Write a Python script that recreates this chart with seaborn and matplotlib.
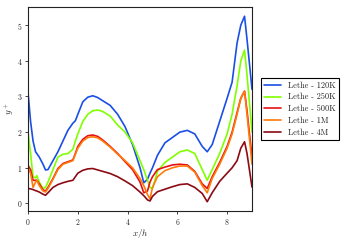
import numpy as np
import pandas as pd
import seaborn as sns
import matplotlib
matplotlib.use("Agg")
import matplotlib.pyplot as plt

x_h = [0, 0.1, 0.2, 0.3, 0.35, 0.45, 0.6, 0.7, 0.8, 1.0, 1.2, 1.4, 1.6, 1.8, 1.9,
       2.0, 2.2, 2.4, 2.6, 2.8, 3.0, 3.3, 3.6, 3.9, 4.2, 4.5, 4.65, 4.8, 4.9, 5.0,
       5.2, 5.5, 5.8, 6.1, 6.4, 6.7, 7.0, 7.2, 7.4, 7.7, 8.0, 8.2, 8.4, 8.55, 8.7,
       8.8, 9.0]

yplus_120k = [3.1, 2.3, 1.75, 1.45, 1.40, 1.3, 1.1, 0.94, 0.95, 1.2, 1.45, 1.75, 2.05,
              2.25, 2.32, 2.5, 2.85, 2.98, 3.02, 2.97, 2.88, 2.75, 2.5, 2.15, 1.65,
              1.0, 0.58, 0.68, 0.85, 1.0, 1.35, 1.7, 1.85, 2.0, 2.05, 1.95, 1.6, 1.45,
              1.65, 2.3, 2.95, 3.4, 4.5, 5.0, 5.25, 4.6, 3.2]
yplus_250k = [2.0, 1.4, 0.75, 0.72, 0.78, 0.6, 0.42, 0.45, 0.6, 0.95, 1.3, 1.38, 1.4,
              1.52, 1.75, 1.95, 2.3, 2.5, 2.6, 2.62, 2.58, 2.45, 2.2, 2.0, 1.7, 1.2,
              0.95, 0.65, 0.45, 0.42, 0.9, 1.15, 1.3, 1.45, 1.5, 1.4, 0.95, 0.65, 0.95,
              1.4, 1.95, 2.5, 3.3, 4.0, 4.3, 3.6, 2.0]
yplus_500k = [1.07, 0.95, 0.65, 0.65, 0.65, 0.55, 0.38, 0.35, 0.45, 0.7, 0.98, 1.12,
              1.17, 1.22, 1.4, 1.6, 1.8, 1.9, 1.92, 1.88, 1.78, 1.6, 1.4, 1.17, 0.95,
              0.6, 0.3, 0.35, 0.6, 0.75, 0.95, 1.02, 1.08, 1.1, 1.08, 0.9, 0.55, 0.42,
              0.75, 1.15, 1.6, 2.0, 2.55, 2.95, 3.15, 2.6, 1.3]
yplus_1m = [0.98, 0.85, 0.45, 0.6, 0.65, 0.5, 0.35, 0.32, 0.42, 0.68, 0.95, 1.1, 1.15,
            1.2, 1.38, 1.55, 1.75, 1.85, 1.87, 1.84, 1.75, 1.58, 1.38, 1.2, 1.0, 0.7,
            0.5, 0.25, 0.13, 0.45, 0.75, 0.92, 1.0, 1.05, 1.05, 0.88, 0.5, 0.3, 0.7,
            1.1, 1.55, 1.95, 2.5, 2.95, 3.15, 2.5, 1.1]
yplus_4m = [0.42, 0.41, 0.39, 0.36, 0.35, 0.32, 0.26, 0.23, 0.3, 0.45, 0.53, 0.58,
            0.62, 0.65, 0.75, 0.85, 0.93, 0.97, 0.98, 0.94, 0.9, 0.84, 0.75, 0.63,
            0.5, 0.32, 0.22, 0.1, 0.07, 0.2, 0.33, 0.4, 0.47, 0.53, 0.55, 0.45, 0.28,
            0.05, 0.3, 0.62, 0.85, 1.0, 1.2, 1.55, 1.73, 1.4, 0.46]

labels = ["Lethe - 120K", "Lethe - 250K", "Lethe - 500K", "Lethe - 1M", "Lethe - 4M"]
colors = ["#1a4fe6", "#80ff00", "#e81010", "#ff7a0a", "#8b0a14"]

series = [yplus_120k, yplus_250k, yplus_500k, yplus_1m, yplus_4m]
df = pd.concat(
    [pd.DataFrame({"x": x_h, "y": ys, "case": lab}) for lab, ys in zip(labels, series)],
    ignore_index=True,
)

sns.set_style("ticks")
plt.rcParams["font.family"] = ["cmr10", "DejaVu Serif"]
plt.rcParams["mathtext.fontset"] = "cm"
plt.rcParams["axes.unicode_minus"] = False
plt.rcParams["axes.formatter.use_mathtext"] = True

fig = plt.figure(figsize=(3.6, 2.4), dpi=100)
ax = fig.add_axes([0.078, 0.121, 0.622, 0.85])
sns.lineplot(data=df, x="x", y="y", hue="case", palette=colors, hue_order=labels,
             linewidth=1.2, ax=ax, sort=False)

ax.set_xlim(0, 9)
ax.set_xlabel("$x/h$", fontsize=6.5, labelpad=0)
ax.set_ylabel("$y^+$", fontsize=6.5, labelpad=1)
ax.set_xticks([0, 2, 4, 6, 8])
ax.set_yticks([0, 1, 2, 3, 4, 5])
ax.tick_params(labelsize=5.5, length=2.5, width=0.6, pad=1.5)
for sp in ax.spines.values():
    sp.set_linewidth(0.8)
    sp.set_color("#222222")

ax.legend(loc="center left", bbox_to_anchor=(1.02, 0.5), fontsize=6,
          frameon=True, fancybox=False, edgecolor="black", framealpha=1,
          handlelength=2.0, borderpad=0.45, labelspacing=0.4)
ax.get_legend().get_frame().set_linewidth(0.8)

fig.savefig("out.png", dpi=100)
